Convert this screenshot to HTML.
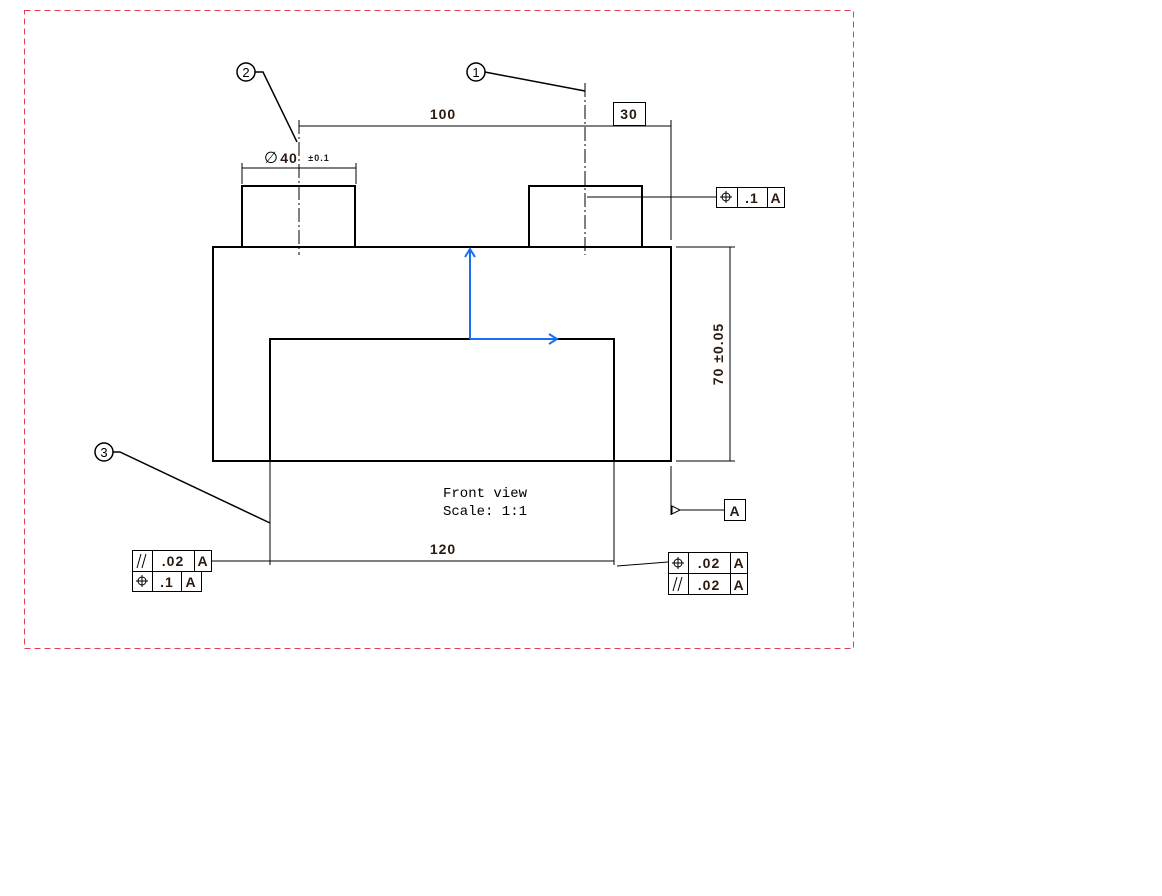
<!DOCTYPE html>
<html><head><style>body{margin:0;background:#fff}svg{display:block}</style></head><body>
<svg width="1162" height="896" viewBox="0 0 1162 896" xmlns="http://www.w3.org/2000/svg" font-family="Liberation Sans, sans-serif">
<rect x="24.5" y="10.5" width="829" height="638" fill="none" stroke="#e04050" stroke-dasharray="6,4"/>
<g stroke="#000" fill="none">
<g stroke-width="2">
<rect x="213" y="247" width="458" height="214"/>
<polyline points="270,461 270,339 614,339 614,461"/>
<polyline points="242,247 242,186 355,186 355,247"/>
<polyline points="529,247 529,186 642,186 642,247"/>
</g>
<g stroke-width="1">
<line x1="299" y1="120" x2="299" y2="255" stroke-dasharray="14,3,2,3"/>
<line x1="585" y1="83" x2="585" y2="255" stroke-dasharray="14,3,2,3"/>
<line x1="299" y1="126" x2="671" y2="126"/>
<line x1="671" y1="120" x2="671" y2="240"/>
<line x1="242" y1="163" x2="242" y2="184"/>
<line x1="356" y1="163" x2="356" y2="184"/>
<line x1="242" y1="168" x2="356" y2="168"/>
<polyline points="255,72 263,72 297,142" stroke-width="1.5"/>
<polyline points="485,72 490,73 585,91" stroke-width="1.5"/>
<line x1="587" y1="197" x2="716" y2="197"/>
<line x1="676" y1="247" x2="735" y2="247"/>
<line x1="676" y1="461" x2="735" y2="461"/>
<line x1="730" y1="247" x2="730" y2="461"/>
<line x1="671" y1="466" x2="671" y2="515"/>
<polyline points="680,510 672,506 672,514 680,510 724,510"/>
<polyline points="113,452 120,452 270,523" stroke-width="1.5"/>
<line x1="270" y1="461" x2="270" y2="565"/>
<line x1="614" y1="461" x2="614" y2="565"/>
<line x1="211" y1="561" x2="614" y2="561"/>
<line x1="668" y1="562" x2="617" y2="566"/>
<circle cx="246" cy="72" r="9" stroke-width="1.5"/>
<circle cx="476" cy="72" r="9" stroke-width="1.5"/>
<circle cx="104" cy="452" r="9" stroke-width="1.5"/>
<rect x="613.5" y="102.5" width="32" height="23"/>
<rect x="716.5" y="187.5" width="68" height="20"/>
<line x1="737.5" y1="187" x2="737.5" y2="207"/><line x1="767.5" y1="187" x2="767.5" y2="207"/>
<rect x="724.5" y="499.5" width="21" height="21"/>
<rect x="132.5" y="550.5" width="79" height="21"/>
<rect x="132.5" y="571.5" width="69" height="20"/>
<line x1="152.5" y1="550" x2="152.5" y2="591"/><line x1="194.5" y1="550" x2="194.5" y2="571"/><line x1="181.5" y1="571" x2="181.5" y2="591"/>
<rect x="668.5" y="552.5" width="79" height="21"/>
<rect x="668.5" y="573.5" width="79" height="21"/>
<line x1="688.5" y1="552" x2="688.5" y2="594"/><line x1="730.5" y1="552" x2="730.5" y2="594"/>
</g>
<g stroke="#1a6ef0" stroke-width="2">
<line x1="470" y1="339" x2="470" y2="249"/><polyline points="465,257 470,249 475,257"/>
<line x1="470" y1="339" x2="557" y2="339"/><polyline points="549,334 557,339 549,344"/>
</g>
<g stroke-width="1">
<circle cx="726" cy="197" r="4"/><line x1="726" y1="191" x2="726" y2="203"/><line x1="720" y1="197" x2="732" y2="197"/>
<circle cx="142" cy="581" r="4"/><line x1="142" y1="575" x2="142" y2="587"/><line x1="136" y1="581" x2="148" y2="581"/>
<circle cx="678" cy="563" r="4"/><line x1="678" y1="557" x2="678" y2="569"/><line x1="672" y1="563" x2="684" y2="563"/>
<line x1="137" y1="568" x2="141" y2="554"/><line x1="142" y1="568" x2="146" y2="554"/>
<line x1="673" y1="591" x2="677" y2="577"/><line x1="678" y1="591" x2="682" y2="577"/>
</g>
</g>
<g fill="#2a1a10" font-weight="bold" font-size="14" text-anchor="middle" letter-spacing="1">
<text x="443" y="119">100</text>
<text x="629" y="119">30</text>
<text x="443" y="554">120</text>
<text x="752" y="203">.1</text><text x="776" y="203">A</text>
<text x="735" y="516">A</text>
<text x="173" y="566">.02</text><text x="203" y="566">A</text>
<text x="167" y="587">.1</text><text x="191" y="587">A</text>
<text x="709" y="568">.02</text><text x="739" y="568">A</text>
<text x="709" y="590">.02</text><text x="739" y="590">A</text>
<text x="289" y="163">40</text>
<text x="319" y="161" font-size="9">±0.1</text>
<text transform="translate(723,354) rotate(-90)">70 ±0.05</text>
</g>
<g fill="#000" font-size="13" text-anchor="middle">
<text x="246" y="77">2</text><text x="476" y="77">1</text><text x="104" y="457">3</text>
</g>
<text x="264" y="163" font-size="16" fill="#000">∅</text>
<g font-family="Liberation Mono, monospace" font-size="14" fill="#000">
<text x="443" y="497">Front view</text>
<text x="443" y="515">Scale:  1:1</text>
</g>
</svg>
</body></html>
